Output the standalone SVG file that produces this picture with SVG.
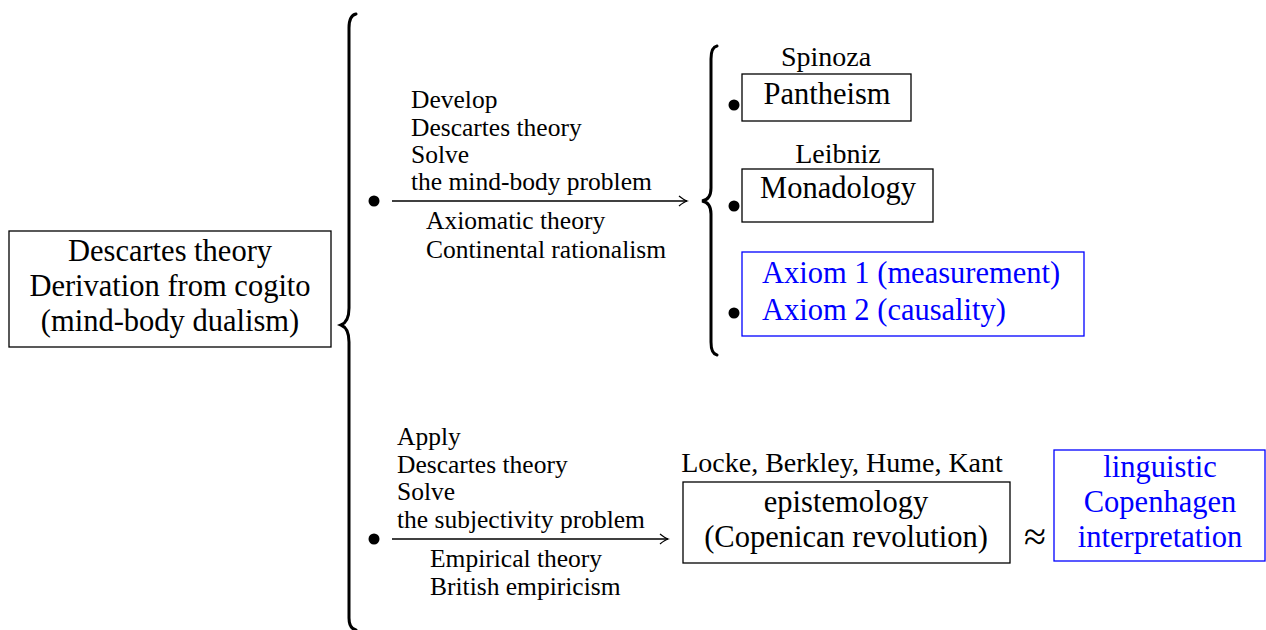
<svg xmlns="http://www.w3.org/2000/svg" width="1266" height="630" viewBox="0 0 1266 630">
<style>
text{font-family:"Liberation Serif","DejaVu Serif","Times New Roman",serif;fill:#000}
.L{font-size:30.5px}
.M{font-size:28px}
.S{font-size:25.5px}
.c{text-anchor:middle}
.blue{fill:#0000ff}
.box{fill:none;stroke:#000;stroke-width:1.3}
.bbox{fill:none;stroke:#0000ff;stroke-width:1.3}
.brace{fill:none;stroke:#000;stroke-width:3;stroke-linecap:round}
.arr{stroke:#000;stroke-width:1.4;fill:none}
.dot{fill:#000}
</style>
<defs>
<marker id="to" viewBox="-10 -6 12 12" refX="0" refY="0" markerWidth="12" markerHeight="12" markerUnits="userSpaceOnUse" orient="auto">
<path d="M-8,-5 Q-3,-1 0,0 Q-3,1 -8,5" fill="none" stroke="#000" stroke-width="1.3"/>
</marker>
</defs>
<rect width="1266" height="630" fill="#fff"/>

<g id="node-descartes">
<rect class="box" x="9" y="231" width="322" height="116"/>
<text class="L c" x="170" y="261">Descartes theory</text>
<text class="L c" x="170" y="296">Derivation from cogito</text>
<text class="L c" x="170" y="331">(mind-body dualism)</text>
</g>

<g id="connectors">
<path class="brace" d="M356,14 C351,15 349,20 349,28 L349,308 C349,318 346,323 341,325 C346,327 349,332 349,342 L349,618 C349,625 351,629 356,630"/>
<path class="brace" d="M717,46 C712,47 711,52 711,59 L711,188 C711,196 708,200 702,201 C708,202 711,206 711,214 L711,342 C711,349 712,354 717,355"/>
<circle class="dot" cx="374" cy="201" r="5.5"/>
<circle class="dot" cx="374" cy="539" r="5.5"/>
<circle class="dot" cx="734" cy="105" r="5.5"/>
<circle class="dot" cx="734" cy="206" r="5.5"/>
<circle class="dot" cx="734" cy="313" r="5.5"/>
<line class="arr" x1="392" y1="201" x2="687" y2="201" marker-end="url(#to)"/>
<line class="arr" x1="392" y1="539" x2="668" y2="539" marker-end="url(#to)"/>
<text class="S" x="411" y="108">Develop</text>
<text class="S" x="411" y="136">Descartes theory</text>
<text class="S" x="411" y="163">Solve</text>
<text class="S" x="411" y="190">the mind-body problem</text>
<text class="S" x="426" y="229">Axiomatic theory</text>
<text class="S" x="426" y="258">Continental rationalism</text>
<text class="S" x="397" y="445">Apply</text>
<text class="S" x="397" y="473">Descartes theory</text>
<text class="S" x="397" y="500">Solve</text>
<text class="S" x="397" y="528">the subjectivity problem</text>
<text class="S" x="430" y="567">Empirical theory</text>
<text class="S" x="430" y="595">British empiricism</text>
<text class="c" x="1035" y="550" style="font-size:40px">≈</text>
</g>

<g id="node-pantheism">
<text class="M c" x="826" y="66">Spinoza</text>
<rect class="box" x="742" y="74" width="169" height="47"/>
<text class="L c" x="827" y="104">Pantheism</text>
</g>

<g id="node-monadology">
<text class="M c" x="838" y="163">Leibniz</text>
<rect class="box" x="742" y="169" width="191" height="53"/>
<text class="L c" x="838" y="198">Monadology</text>
</g>

<g id="node-axioms">
<rect class="bbox" x="742" y="252" width="342" height="84"/>
<text class="L blue" x="762" y="283">Axiom 1 (measurement)</text>
<text class="L blue" x="762" y="320">Axiom 2 (causality)</text>
</g>

<g id="node-epistemology">
<text class="M c" x="842" y="472">Locke, Berkley, Hume, Kant</text>
<rect class="box" x="683" y="482" width="327" height="81"/>
<text class="L c" x="846" y="512">epistemology</text>
<text class="L c" x="846" y="547">(Copenican revolution)</text>
</g>

<g id="node-copenhagen">
<rect class="bbox" x="1054" y="450" width="211" height="111"/>
<text class="L c blue" x="1160" y="477">linguistic</text>
<text class="L c blue" x="1160" y="512">Copenhagen</text>
<text class="L c blue" x="1160" y="547">interpretation</text>
</g>
</svg>
